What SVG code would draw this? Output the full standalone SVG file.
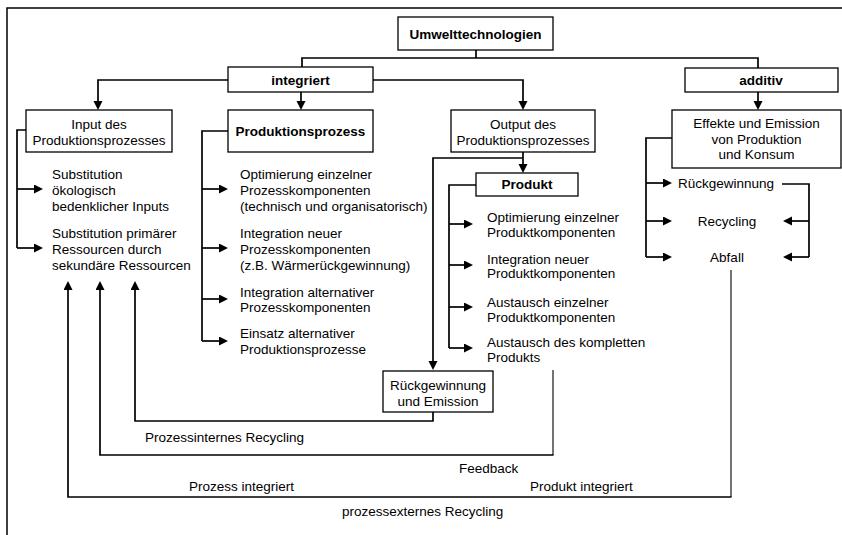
<svg xmlns="http://www.w3.org/2000/svg" width="842" height="535" viewBox="0 0 842 535">
  <style>
    text { font-family: "Liberation Sans", Arial, sans-serif; font-size: 13.5px; fill: #000; }
    .b { font-weight: bold; }
    .c { text-anchor: middle; }
    .box { fill: #fff; stroke: #000; stroke-width: 1.3; }
    .ln { fill: none; stroke: #000; stroke-width: 1.7; }
    .thin { fill: none; stroke: #000; stroke-width: 1.1; }
    .ar { marker-end: url(#head); }
  </style>
  <defs>
    <marker id="head" markerUnits="userSpaceOnUse" markerWidth="10" markerHeight="10" refX="7" refY="4.5" orient="auto">
      <path d="M0,0 L9,4.5 L0,9 z" fill="#000"/>
    </marker>
  </defs>

  <rect width="842" height="535" fill="#fff"/>
  <!-- frame -->
  <path d="M7,540 V8 H850" fill="none" stroke="#000" stroke-width="1.5"/>

  <g id="connectors">
    <!-- top level -->
    <path class="ln" d="M476,50 V58 M302,67 V58 H758 V68"/>
    <path class="ln ar" d="M301,92 V108"/>
    <path class="ln ar" d="M228,80 H98 V108"/>
    <path class="ln ar" d="M373,80 H523 V108"/>
    <path class="ln ar" d="M758,92 V108"/>
    <!-- input branch -->
    <path class="ln" d="M26,130 H17 V248"/>
    <path class="ln ar" d="M17,189 H41"/>
    <path class="ln ar" d="M17,248 H41"/>
    <!-- process branch -->
    <path class="ln" d="M228,131 H202 V341"/>
    <path class="ln ar" d="M202,189 H226"/>
    <path class="ln ar" d="M202,248 H226"/>
    <path class="ln ar" d="M202,299 H226"/>
    <path class="ln ar" d="M202,341 H226"/>
    <!-- output branch -->
    <path class="ln ar" d="M523,152 V171"/>
    <path class="ln ar" d="M523,158 H433 V368"/>
    <!-- product branch -->
    <path class="ln" d="M476,185 H449 V348"/>
    <path class="ln ar" d="M449,224 H471"/>
    <path class="ln ar" d="M449,265 H471"/>
    <path class="ln ar" d="M449,307 H471"/>
    <path class="ln ar" d="M449,348 H471"/>
    <!-- additive branch -->
    <path class="ln" d="M672,138 H646 V257"/>
    <path class="ln ar" d="M646,183 H670"/>
    <path class="ln ar" d="M646,221 H670"/>
    <path class="ln ar" d="M646,257 H670"/>
    <path class="ln" d="M782,184 H809 V257"/>
    <path class="ln ar" d="M809,221 H785"/>
    <path class="ln ar" d="M809,257 H785"/>
    <!-- feedback loops -->
    <path class="ln ar" d="M433,412 V421 H135 V283"/>
    <path class="thin" d="M553,370 V455"/>
    <path class="ln ar" d="M553.5,455 H100 V283"/>
    <path class="thin" d="M731,270 V497"/>
    <path class="ln ar" d="M731.5,497 H68 V283"/>
  </g>

  <g id="umwelttechnologien">
    <rect class="box" x="398" y="17" width="155" height="33"/>
    <text class="b c" x="475.5" y="38.5">Umwelttechnologien</text>
  </g>
  <g id="integriert">
    <rect class="box" x="228" y="67" width="145" height="25"/>
    <text class="b c" x="300.5" y="84.5">integriert</text>
  </g>
  <g id="additiv">
    <rect class="box" x="685" y="68" width="153" height="24"/>
    <text class="b c" x="761" y="84.5">additiv</text>
  </g>
  <g id="input">
    <rect class="box" x="26" y="110" width="146" height="42"/>
    <text class="c" x="99" y="128.5">Input des</text>
    <text class="c" x="99" y="144.5">Produktionsprozesses</text>
  </g>
  <g id="produktionsprozess">
    <rect class="box" x="228" y="110" width="145" height="42"/>
    <text class="b c" x="300.5" y="136">Produktionsprozess</text>
  </g>
  <g id="output">
    <rect class="box" x="451" y="110" width="144" height="42"/>
    <text class="c" x="523" y="128.5">Output des</text>
    <text class="c" x="523" y="144.5">Produktionsprozesses</text>
  </g>
  <g id="effekte">
    <rect class="box" x="672" y="110" width="169" height="58"/>
    <text class="c" x="756.5" y="127.5">Effekte und Emission</text>
    <text class="c" x="756.5" y="143.5">von Produktion</text>
    <text class="c" x="756.5" y="159">und Konsum</text>
  </g>
  <g id="produkt">
    <rect class="box" x="476" y="173" width="102" height="23"/>
    <text class="b c" x="527" y="189">Produkt</text>
  </g>
  <g id="rueckgewinnung-emission">
    <rect class="box" x="383" y="371" width="110" height="41"/>
    <text class="c" x="438" y="389.5">Rückgewinnung</text>
    <text class="c" x="438" y="405.5">und Emission</text>
  </g>

  <g id="input-items">
    <text x="52" y="178.5">Substitution</text>
    <text x="52" y="194.5">ökologisch</text>
    <text x="52" y="210.5">bedenklicher Inputs</text>
    <text x="52" y="237.5">Substitution primärer</text>
    <text x="52" y="253.5">Ressourcen durch</text>
    <text x="52" y="269.5">sekundäre Ressourcen</text>
  </g>
  <g id="prozess-items">
    <text x="240" y="178.5">Optimierung einzelner</text>
    <text x="240" y="194.5">Prozesskomponenten</text>
    <text x="240" y="210.5">(technisch und organisatorisch)</text>
    <text x="240" y="237.5">Integration neuer</text>
    <text x="240" y="253.5">Prozesskomponenten</text>
    <text x="240" y="269.5">(z.B. Wärmerückgewinnung)</text>
    <text x="240" y="296.5">Integration alternativer</text>
    <text x="240" y="312">Prozesskomponenten</text>
    <text x="240" y="337.5">Einsatz alternativer</text>
    <text x="240" y="353.5">Produktionsprozesse</text>
  </g>
  <g id="produkt-items">
    <text x="487" y="221.5">Optimierung einzelner</text>
    <text x="487" y="237">Produktkomponenten</text>
    <text x="487" y="263.5">Integration neuer</text>
    <text x="487" y="278">Produktkomponenten</text>
    <text x="487" y="306.5">Austausch einzelner</text>
    <text x="487" y="321.5">Produktkomponenten</text>
    <text x="487" y="346.5">Austausch des kompletten</text>
    <text x="487" y="361.5">Produkts</text>
  </g>
  <g id="additiv-items">
    <text x="678" y="187.5">Rückgewinnung</text>
    <text class="c" x="727" y="225.5">Recycling</text>
    <text class="c" x="727" y="261.5">Abfall</text>
  </g>
  <g id="loop-labels">
    <text x="145" y="441.5">Prozessinternes Recycling</text>
    <text x="459" y="472.5">Feedback</text>
    <text x="189" y="490.5">Prozess integriert</text>
    <text x="530" y="490.5">Produkt integriert</text>
    <text x="342" y="515.5">prozessexternes Recycling</text>
  </g>
</svg>
